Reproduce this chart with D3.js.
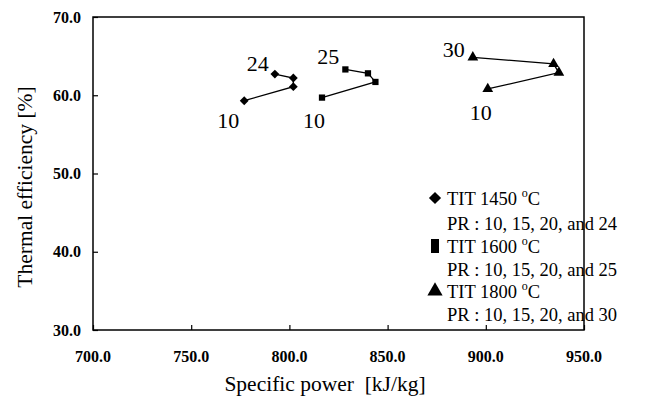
<!DOCTYPE html>
<html>
<head>
<meta charset="utf-8">
<script src="https://cdn.jsdelivr.net/npm/d3@7"></script>
<style>
  body { margin: 0; background: #fff; }
  text { font-family: "Liberation Serif", "Times New Roman", serif; fill: #000; }
</style>
</head>
<body>
<div class="content"></div>
<script>
// data (PR 10, 15, 20, top PR)
const tit1450Power = [777, 802, 802, 792.6]
const tit1450Eff = [59.3, 61.1, 62.2, 62.7]
const tit1600Power = [816.6, 843.8, 840, 828.5]
const tit1600Eff = [59.7, 61.7, 62.8, 63.3]
const tit1800Power = [901, 937.2, 934.5, 893.4]
const tit1800Eff = [60.8, 62.9, 64.0, 64.85]
const xTicks = [700, 750, 800, 850, 900, 950]
const yTicks = [30, 40, 50, 60, 70]
const seriesNames = ['TIT 1450', 'TIT 1600', 'TIT 1800']
const prLabels = ['PR : 10, 15, 20, and 24', 'PR : 10, 15, 20, and 25', 'PR : 10, 15, 20, and 30']
const endLabels = [['10', '24'], ['10', '25'], ['10', '30']]

const width = 652
const height = 401
const plotL = 93, plotR = 584, plotT = 17, plotB = 330

const x = d3.scaleLinear().domain([700, 950]).range([plotL, plotR])
const y = d3.scaleLinear().domain([30, 70]).range([plotB, plotT])

const svg = d3.select('div.content')
    .append('svg')
    .attr('width', width)
    .attr('height', height)

// plot frame
svg.append('rect')
    .attr('x', plotL)
    .attr('y', plotT)
    .attr('width', plotR - plotL)
    .attr('height', plotB - plotT)
    .attr('fill', 'none')
    .attr('stroke', 'black')
    .attr('stroke-width', 1.5)

// axes, ticks inward
const xAxis = svg.append('g')
    .attr('transform', `translate(0,${plotB})`)
    .call(d3.axisTop(x).tickValues(xTicks).tickSize(5).tickFormat(''))
xAxis.select('.domain').remove()
svg.append('g')
    .selectAll('text')
    .data(xTicks)
    .join('text')
    .attr('x', d => x(d))
    .attr('y', 362)
    .attr('text-anchor', 'middle')
    .attr('font-size', 16)
    .attr('font-weight', 'bold')
    .text(d3.format('.1f'))

const yAxis = svg.append('g')
    .attr('transform', `translate(${plotL},0)`)
    .call(d3.axisRight(y).tickValues(yTicks).tickSize(5).tickFormat(''))
yAxis.select('.domain').remove()
svg.append('g')
    .selectAll('text')
    .data(yTicks)
    .join('text')
    .attr('x', 81)
    .attr('y', d => y(d))
    .attr('dy', '0.35em')
    .attr('text-anchor', 'end')
    .attr('font-size', 16)
    .attr('font-weight', 'bold')
    .text(d3.format('.1f'))
svg.selectAll('.tick line').attr('stroke', 'black').attr('stroke-width', 1.2)

// axis titles
svg.append('text')
    .attr('x', 325)
    .attr('y', 391)
    .attr('text-anchor', 'middle')
    .attr('font-size', 21.5)
    .attr('xml:space', 'preserve')
    .text('Specific power  [kJ/kg]')
svg.append('text')
    .attr('transform', 'translate(32,187) rotate(-90)')
    .attr('text-anchor', 'middle')
    .attr('font-size', 21.5)
    .text('Thermal efficiency [%]')

// series
const series = [
    { px: tit1450Power, ef: tit1450Eff, sym: d3.symbolDiamond2, size: 50 },
    { px: tit1600Power, ef: tit1600Eff, sym: d3.symbolSquare2, size: 50 },
    { px: tit1800Power, ef: tit1800Eff, sym: d3.symbolTriangle, size: 50 }
]
const line = d3.line().x(d => x(d[0])).y(d => y(d[1]))

series.forEach((s, i) => {
    const pts = s.px.map((v, j) => [v, s.ef[j]])
    svg.append('path')
        .attr('d', line(pts))
        .attr('fill', 'none')
        .attr('stroke', 'black')
        .attr('stroke-width', 1.3)
    svg.append('g')
        .selectAll('path')
        .data(pts)
        .join('path')
        .attr('transform', d => `translate(${x(d[0])},${y(d[1])})`)
        .attr('d', d3.symbol(s.sym, s.size))
        .attr('fill', 'black')
})

// end labels: first (PR 10) below-left, last above-left
const lowOffsets = [[-16, 27], [-8, 30], [-7, 31]]
const highOffsets = [[-17, -3], [-17, -5], [-19, 0]]
series.forEach((s, i) => {
    svg.append('text')
        .attr('x', x(s.px[0]) + lowOffsets[i][0])
        .attr('y', y(s.ef[0]) + lowOffsets[i][1])
        .attr('text-anchor', 'middle')
        .attr('font-size', 22)
        .text(endLabels[i][0])
    svg.append('text')
        .attr('x', x(s.px[3]) + highOffsets[i][0])
        .attr('y', y(s.ef[3]) + highOffsets[i][1])
        .attr('text-anchor', 'middle')
        .attr('font-size', 22)
        .text(endLabels[i][1])
})

// legend
const legendY = [[198, 205, 230], [246, 253, 276], [291, 298, 321]]
const legendMarks = [
    d3.symbol(d3.symbolDiamond2, 95),
    'M-4,-7H4V7H-4Z',
    d3.symbol(d3.symbolTriangle, 100)
]
series.forEach((s, i) => {
    svg.append('path')
        .attr('transform', `translate(435,${legendY[i][0]})`)
        .attr('d', legendMarks[i])
        .attr('fill', 'black')
    const t = svg.append('text')
        .attr('x', 447)
        .attr('y', legendY[i][1])
        .attr('font-size', 18.5)
    t.append('tspan').text(seriesNames[i] + ' ')
    t.append('tspan').attr('font-size', 12).attr('dy', -8).text('o')
    t.append('tspan').attr('dy', 8).text('C')
    svg.append('text')
        .attr('x', 447)
        .attr('y', legendY[i][2])
        .attr('font-size', 18.5)
        .text(prLabels[i])
})
</script>
</body>
</html>
